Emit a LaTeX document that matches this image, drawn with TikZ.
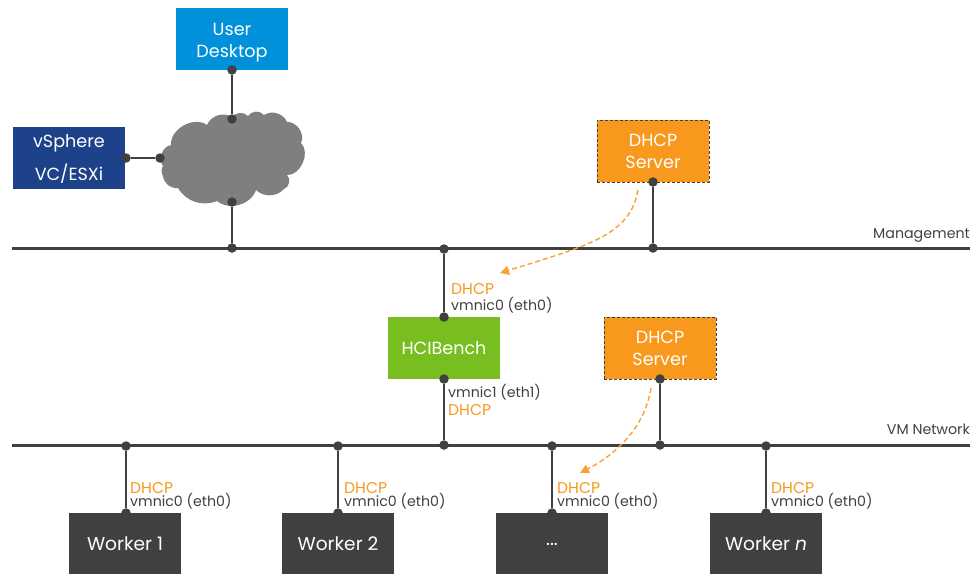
\documentclass[tikz,border=0pt]{standalone}
\usepackage{fontspec}
\setmainfont{Poppins}
\usetikzlibrary{arrows.meta}
\definecolor{ink}{HTML}{404040}
\definecolor{skyb}{HTML}{0091DA}
\definecolor{navyb}{HTML}{1D428A}
\definecolor{orangeb}{HTML}{F8981D}
\definecolor{greenb}{HTML}{78BE20}
\definecolor{cloudg}{HTML}{7F7F7F}
\tikzset{
  x=1pt,y=-1pt,
  boxstyle/.style={minimum width=112pt,minimum height=62pt,inner sep=0pt,text=white,align=center,
    font=\fontsize{17.6}{22}\selectfont},
  bluebox/.style={boxstyle,fill=skyb},
  navybox/.style={boxstyle,fill=navyb,font=\fontsize{17.6}{33}\selectfont},
  dhcpbox/.style={boxstyle,fill=orangeb,draw=ink,densely dashed,line width=0.8pt},
  greenbox/.style={boxstyle,fill=greenb},
  darkbox/.style={boxstyle,fill=ink,font=\fontsize{18.6}{22}\selectfont},
  dot/.style={circle,fill=ink,inner sep=0pt,minimum size=9.5pt},
  bus/.style={draw=ink,line width=3pt},
  link/.style={draw=ink,line width=2pt},
  lease/.style={draw=orangeb!90,line width=1.4pt,dash pattern=on 5pt off 3pt,-{Triangle[length=9pt,width=9pt]}},
  tag/.style={font=\fontsize{14.2}{14.2}\selectfont,inner sep=0pt,anchor=base west},
  dhcptag/.style={tag,text=orangeb,font=\fontsize{15.6}{15.6}\selectfont},
  nettag/.style={tag,text=ink},
}
\begin{document}
\begin{tikzpicture}
\useasboundingbox (0,0) rectangle (973,573);
% cloud
\fill[cloudg] (171,145) to[bend left=65] (207,125) to[bend left=50] (232,117)
  to[bend left=50] (248,116) to[bend left=55] (264,115) to[bend left=50] (287,122)
  to[bend left=60] (301,143) to[bend left=70] (287,175) to[bend left=60] (284,189)
  to[bend left=45] (256,190) to[bend left=55] (217,201) to[bend left=40] (178,188)
  to[bend left=45] (163,176) to[bend left=30] (163,166) to[bend left=60] (171,145) -- cycle;
% boxes
\node[bluebox]  (desktop) at (232,39) {\rule{0pt}{19pt}User\\Desktop};
\node[navybox]  (vsphere) at (69,158) {\rule{0pt}{15pt}vSphere\\VC/ESXi};
\node[dhcpbox]  (dhcpa) at (653,151) {DHCP\\Server};
\node[greenbox] (hci) at (444,348) {HCIBench};
\node[dhcpbox]  (dhcpb) at (660,348) {DHCP\\Server};
\node[darkbox]  (w1) at (125,544) {Worker 1};
\node[darkbox]  (w2) at (338,544) {Worker 2};
\node[darkbox]  (w3) at (552,544) {...};
\node[darkbox]  (w4) at (766,544) {Worker \textit{n}};
% bus ends
\coordinate (ma) at (12,248);
\coordinate (mb) at (970,248);
\coordinate (va) at (12,445);
\coordinate (vb) at (970,445);
\draw[bus] (ma) -- (mb);
\draw[bus] (va) -- (vb);
% dots
\node[dot] (d1) at (232,70) {};
\node[dot] (c1) at (232,119) {};
\node[dot] (c2) at (232,202) {};
\node[dot] (m1) at (232,248) {};
\node[dot] (vs) at (126,158) {};
\node[dot] (c3) at (160,158) {};
\node[dot] (da) at (653,182) {};
\node[dot] (m3) at (653,248) {};
\node[dot] (m2) at (444,249) {};
\node[dot] (h1) at (444,317) {};
\node[dot] (h2) at (444,379) {};
\node[dot] (n0) at (444,445) {};
\node[dot] (db) at (660,379) {};
\node[dot] (n5) at (660,445) {};
\node[dot] (n1) at (126,446) {};
\node[dot] (n2) at (338,446) {};
\node[dot] (n3) at (552,446) {};
\node[dot] (n4) at (766,446) {};
\node[dot] (t1) at (126,513) {};
\node[dot] (t2) at (338,513) {};
\node[dot] (t3) at (552,513) {};
\node[dot] (t4) at (766,513) {};
% links
\draw[link] (d1) -- (c1);
\draw[link] (c2) -- (m1);
\draw[link] (vs) -- (c3);
\draw[link] (da) -- (m3);
\draw[link] (m2) -- (h1);
\draw[link] (h2) -- (n0);
\draw[link] (db) -- (n5);
\draw[link] (n1) -- (t1);
\draw[link] (n2) -- (t2);
\draw[link] (n3) -- (t3);
\draw[link] (n4) -- (t4);
% DHCP leases
\coordinate (la) at (638,190);
\coordinate (lb) at (500,273);
\coordinate (lc) at (651,388);
\coordinate (ld) at (580,473);
\draw[lease] (la) .. controls (630,235) and (590,245) .. (lb);
\draw[lease] (lc) .. controls (645,425) and (620,452) .. (ld);
% labels
\node[nettag,anchor=base east] (lm) at (970,238) {Management};
\node[nettag,anchor=base east] (lv) at (970,434) {VM Network};
\node[dhcptag] (t1a) at (451,294) {DHCP};
\node[nettag] (t1b) at (451,310) {vmnic0 (eth0)};
\node[nettag] (t2a) at (448,397) {vmnic1 (eth1)};
\node[dhcptag] (t2b) at (448,415) {DHCP};
\node[dhcptag] (a1) at (130,493) {DHCP};
\node[nettag] (b1) at (130,506) {vmnic0 (eth0)};
\node[dhcptag] (a2) at (344,493) {DHCP};
\node[nettag] (b2) at (344,506) {vmnic0 (eth0)};
\node[dhcptag] (a3) at (557,493) {DHCP};
\node[nettag] (b3) at (557,506) {vmnic0 (eth0)};
\node[dhcptag] (a4) at (771,493) {DHCP};
\node[nettag] (b4) at (771,506) {vmnic0 (eth0)};
\end{tikzpicture}
\end{document}
